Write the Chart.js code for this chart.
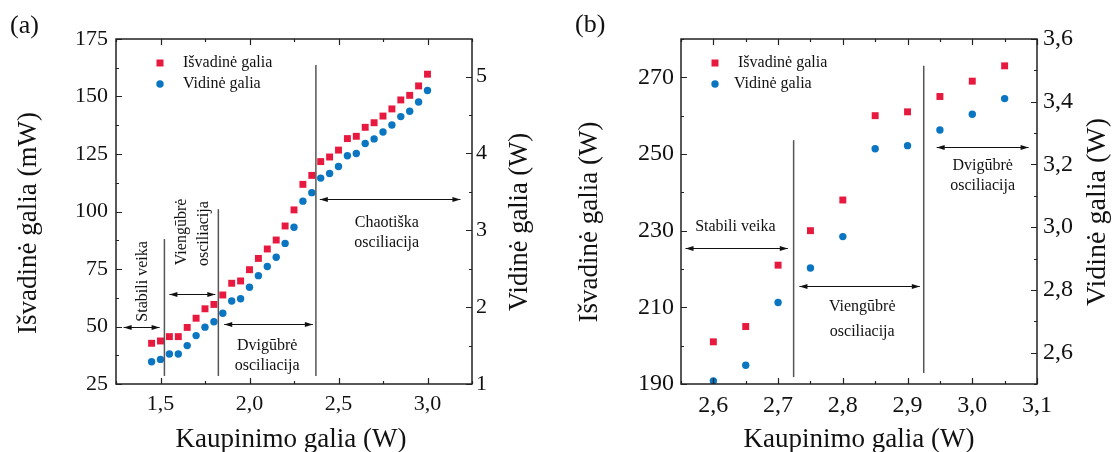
<!DOCTYPE html>
<html>
<head>
<meta charset="utf-8">
<script src="https://cdn.jsdelivr.net/npm/chart.js@4.4.0/dist/chart.umd.min.js"></script>
<style>
  html, body { margin: 0; padding: 0; background: #fff; }
  #wrap { position: relative; width: 1114px; height: 452px; }
  .pane { position: absolute; top: 0; width: 557px; height: 452px; }
</style>
</head>
<body>
<div id="wrap">
  <div class="pane" style="left:0"><canvas id="chartA" width="557" height="452"></canvas></div>
  <div class="pane" style="left:557px"><canvas id="chartB" width="557" height="452"></canvas></div>
</div>
<script>
// (a) kaupinimo galia, W
const pumpA = [1.45, 1.50, 1.55, 1.60, 1.65, 1.70, 1.75, 1.80, 1.85, 1.90, 1.95, 2.00,
  2.05, 2.10, 2.15, 2.20, 2.25, 2.30, 2.35, 2.40, 2.45, 2.50, 2.55, 2.60,
  2.65, 2.70, 2.75, 2.80, 2.85, 2.90, 2.95, 3.00];
// (a) išvadinė galia, mW
const outA = [42.7, 43.7, 45.6, 45.6, 49.6, 53.6, 57.7, 59.6, 63.7, 68.8, 69.8, 74.7,
  79.6, 83.7, 87.6, 93.7, 100.7, 111.8, 115.7, 121.7, 123.7, 126.7, 131.7, 132.7,
  136.6, 138.6, 141.5, 144.6, 148.5, 150.5, 154.6, 159.7];
// (a) vidinė galia, W
const innerA = [1.29, 1.32, 1.39, 1.39, 1.50, 1.63, 1.74, 1.81, 1.92, 2.08, 2.11, 2.26,
  2.41, 2.53, 2.65, 2.83, 3.04, 3.38, 3.49, 3.68, 3.74, 3.83, 3.97, 4.00,
  4.13, 4.19, 4.28, 4.37, 4.48, 4.55, 4.67, 4.82];

// (b)
const pumpB = [2.60, 2.65, 2.70, 2.75, 2.80, 2.85, 2.90, 2.95, 3.00, 3.05];
const outB = [201, 205, 221, 230, 238, 260, 261, 265, 269, 273];
const innerB = [2.51, 2.56, 2.76, 2.87, 2.97, 3.25, 3.26, 3.31, 3.36, 3.41];

// ašių žymės (su tarpinėmis)
const xTicksA = [1.25, 1.5, 1.75, 2.0, 2.25, 2.5, 2.75, 3.0, 3.25];
const yTicksA = [25, 37.5, 50, 62.5, 75, 87.5, 100, 112.5, 125, 137.5, 150, 162.5, 175];
const y1TicksA = [1, 1.5, 2, 2.5, 3, 3.5, 4, 4.5, 5];
const xTicksB = [2.55, 2.6, 2.65, 2.7, 2.75, 2.8, 2.85, 2.9, 2.95, 3.0, 3.05, 3.1];
const yTicksB = [190, 200, 210, 220, 230, 240, 250, 260, 270, 280];
const y1TicksB = [2.5, 2.6, 2.7, 2.8, 2.9, 3.0, 3.1, 3.2, 3.3, 3.4, 3.5, 3.6];

const RED = '#E8193F';
const BLUE = '#0A76C2';
const FONT = '"Liberation Serif", "Times New Roman", serif';
Chart.defaults.font.family = FONT;
Chart.defaults.color = '#111';

const comma = (v, d) => v.toFixed(d).replace('.', ',');
const isMult = (v, step) => Math.abs(v / step - Math.round(v / step)) < 1e-6;

function makeDeco(cfg) {
  return {
    id: 'deco' + cfg.name,
    afterDraw(chart) {
      const ctx = chart.ctx;
      const { left, right, top, bottom } = chart.chartArea;
      const sx = chart.scales.x, sy = chart.scales.y;
      ctx.save();
      ctx.strokeStyle = '#222';
      ctx.lineWidth = 1.2;
      // žymės į vidų
      ctx.beginPath();
      sx.ticks.forEach(t => {
        const p = Math.round(sx.getPixelForValue(t.value)) + 0.5;
        const len = t.label ? 6 : 3;
        ctx.moveTo(p, bottom); ctx.lineTo(p, bottom - len);
        ctx.moveTo(p, top); ctx.lineTo(p, top + len);
      });
      sy.ticks.forEach(t => {
        const p = Math.round(sy.getPixelForValue(t.value)) + 0.5;
        const len = t.label ? 6 : 3;
        ctx.moveTo(left, p); ctx.lineTo(left + len, p);
      });
      chart.scales.y1.ticks.forEach(t => {
        const p = Math.round(chart.scales.y1.getPixelForValue(t.value)) + 0.5;
        const len = t.label ? 6 : 3;
        ctx.moveTo(right, p); ctx.lineTo(right - len, p);
      });
      ctx.stroke();
      ctx.lineWidth = 1.5;
      ctx.strokeRect(left, top, right - left, bottom - top);

      // vertikalios ribos
      ctx.strokeStyle = '#555';
      ctx.lineWidth = 1.5;
      cfg.vlines.forEach(([x, y0, y1]) => {
        const px = sx.getPixelForValue(x);
        ctx.beginPath();
        ctx.moveTo(px, sy.getPixelForValue(y0));
        ctx.lineTo(px, sy.getPixelForValue(y1));
        ctx.stroke();
      });

      // rodyklės
      ctx.strokeStyle = '#111';
      ctx.fillStyle = '#111';
      ctx.lineWidth = 1;
      cfg.arrows.forEach(([x0, x1, y]) => {
        const a = sx.getPixelForValue(x0), b = sx.getPixelForValue(x1);
        const py = Math.round(sy.getPixelForValue(y)) + 0.5;
        ctx.beginPath(); ctx.moveTo(a, py); ctx.lineTo(b, py); ctx.stroke();
        ctx.beginPath();
        ctx.moveTo(a, py); ctx.lineTo(a + 8, py - 2.5); ctx.lineTo(a + 8, py + 2.5); ctx.closePath();
        ctx.moveTo(b, py); ctx.lineTo(b - 8, py - 2.5); ctx.lineTo(b - 8, py + 2.5); ctx.closePath();
        ctx.fill();
      });

      // užrašai
      ctx.fillStyle = '#111';
      ctx.textAlign = 'center';
      ctx.textBaseline = 'middle';
      ctx.font = '16px ' + FONT;
      cfg.notes.forEach(([text, x, y, rot]) => {
        ctx.save();
        ctx.translate(sx.getPixelForValue(x), sy.getPixelForValue(y));
        if (rot) ctx.rotate(-Math.PI / 2);
        ctx.fillText(text, 0, 0);
        ctx.restore();
      });

      // legenda
      const lg = cfg.legend;
      ctx.fillStyle = RED;
      ctx.fillRect(lg.mx - 3.5, lg.y0 - 3.5, 7, 7);
      ctx.fillStyle = BLUE;
      ctx.beginPath(); ctx.arc(lg.mx, lg.y1, 3.7, 0, Math.PI * 2); ctx.fill();
      ctx.fillStyle = '#111';
      ctx.textAlign = 'left';
      ctx.fillText('Išvadinė galia', lg.tx0, lg.y0);
      ctx.fillText('Vidinė galia', lg.tx1, lg.y1);

      // ašių pavadinimai
      ctx.textBaseline = 'alphabetic';
      cfg.titles.forEach(t => {
        ctx.save();
        ctx.font = t.size + 'px ' + FONT;
        ctx.textAlign = t.align || 'center';
        ctx.translate(t.x, t.y);
        if (t.rot) ctx.rotate(-Math.PI / 2);
        ctx.fillText(t.text, 0, 0);
        ctx.restore();
      });
      ctx.restore();
    }
  };
}

function makeChart(id, cfg) {
  const tickFont = { size: cfg.tickSize, family: FONT };
  return new Chart(document.getElementById(id), {
    type: 'scatter',
    data: {
      datasets: [{
        label: 'Išvadinė galia',
        data: cfg.xs.map((x, i) => ({ x, y: cfg.out[i] })),
        yAxisID: 'y',
        pointStyle: 'rect',
        pointRadius: 4.9,
        backgroundColor: RED,
        borderWidth: 0
      }, {
        label: 'Vidinė galia',
        data: cfg.xs.map((x, i) => ({ x, y: cfg.inner[i] })),
        yAxisID: 'y1',
        pointStyle: 'circle',
        pointRadius: 3.7,
        backgroundColor: BLUE,
        borderWidth: 0
      }]
    },
    options: {
      responsive: false,
      devicePixelRatio: 1,
      animation: false,
      events: [],
      layout: { padding: { top: 39, left: 0, right: 0, bottom: 0 } },
      plugins: { legend: { display: false }, tooltip: { enabled: false } },
      scales: {
        x: {
          type: 'linear', min: cfg.xTicks[0], max: cfg.xTicks[cfg.xTicks.length - 1],
          grid: { display: false, drawTicks: false }, border: { display: false },
          afterBuildTicks: s => { s.ticks = cfg.xTicks.map(v => ({ value: v })); },
          afterFit: s => { s.height = 68; },
          ticks: { autoSkip: false, maxRotation: 0, padding: 7, font: tickFont, callback: cfg.xLabel }
        },
        y: {
          type: 'linear', position: 'left', min: cfg.yTicks[0], max: cfg.yTicks[cfg.yTicks.length - 1],
          grid: { display: false, drawTicks: false }, border: { display: false },
          afterBuildTicks: s => { s.ticks = cfg.yTicks.map(v => ({ value: v })); },
          afterFit: s => { s.width = cfg.leftW; },
          ticks: { autoSkip: false, padding: cfg.leftPad, font: tickFont, callback: cfg.yLabel }
        },
        y1: {
          type: 'linear', position: 'right', min: cfg.y1Min, max: cfg.y1Max,
          grid: { display: false, drawTicks: false }, border: { display: false },
          afterBuildTicks: s => { s.ticks = cfg.y1Ticks.map(v => ({ value: v })); },
          afterFit: s => { s.width = cfg.rightW; },
          ticks: { autoSkip: false, padding: cfg.rightPad, font: tickFont, callback: cfg.y1Label }
        }
      }
    },
    plugins: [makeDeco(cfg)]
  });
}

makeChart('chartA', {
  name: 'A', xs: pumpA, out: outA, inner: innerA,
  xTicks: xTicksA, yTicks: yTicksA, y1Ticks: y1TicksA,
  y1Min: 1, y1Max: 5.49,
  tickSize: 22, leftW: 116, rightW: 85, leftPad: 8, rightPad: 4,
  xLabel: v => isMult(v, 0.5) ? comma(v, 1) : '',
  yLabel: v => isMult(v, 25) ? String(v) : '',
  y1Label: v => isMult(v, 1) ? String(v) : '',
  vlines: [[1.522, 88, 28.5], [1.825, 101, 28.5], [2.373, 163.7, 28.5]],
  arrows: [[1.293, 1.495, 49.7], [1.55, 1.808, 64.1], [1.858, 2.356, 51.1], [2.395, 3.185, 105.4]],
  notes: [
    ['Stabili veika', 1.399, 69.6, true],
    ['Viengūbrė', 1.618, 91.1, true],
    ['osciliacija', 1.741, 90.4, true],
    ['Dvigūbrė', 2.099, 41.6, false],
    ['osciliacija', 2.099, 33.0, false],
    ['Chaotiška', 2.771, 95.0, false],
    ['osciliacija', 2.771, 86.3, false]
  ],
  legend: { mx: 160, y0: 63, y1: 84, tx0: 183, tx1: 183 },
  titles: [
    { text: 'Išvadinė galia (mW)', x: 36, y: 223, rot: true, size: 27 },
    { text: 'Vidinė galia (W)', x: 527, y: 222, rot: true, size: 26.5 },
    { text: 'Kaupinimo galia (W)', x: 291, y: 447, size: 27 },
    { text: '(a)', x: 10, y: 33, align: 'left', size: 26 }
  ]
});

makeChart('chartB', {
  name: 'B', xs: pumpB, out: outB, inner: innerB,
  xTicks: xTicksB, yTicks: yTicksB, y1Ticks: y1TicksB,
  y1Min: 2.5, y1Max: 3.6,
  tickSize: 24, leftW: 124, rightW: 77, leftPad: 7, rightPad: 6,
  xLabel: v => isMult(v, 0.1) ? comma(v, 1) : '',
  yLabel: v => isMult(v - 190, 20) ? String(v) : '',
  y1Label: v => (v > 2.55 && isMult(v, 0.2)) ? comma(v, 1) : '',
  vlines: [[2.724, 253.6, 191.8], [2.925, 273, 192.9]],
  arrows: [[2.557, 2.715, 225.5], [2.733, 2.919, 215.6], [2.945, 3.087, 251.8]],
  notes: [
    ['Stabili veika', 2.634, 230.9, false],
    ['Viengūbrė', 2.830, 210.1, false],
    ['osciliacija', 2.830, 203.6, false],
    ['Dvigūbrė', 3.016, 246.8, false],
    ['osciliacija', 3.016, 241.6, false]
  ],
  legend: { mx: 158, y0: 63, y1: 84, tx0: 181, tx1: 177 },
  titles: [
    { text: 'Išvadinė galia (W)', x: 40, y: 222, rot: true, size: 27 },
    { text: 'Vidinė galia (W)', x: 548, y: 212, rot: true, size: 28 },
    { text: 'Kaupinimo galia (W)', x: 302, y: 447, size: 27 },
    { text: '(b)', x: 18, y: 32, align: 'left', size: 26 }
  ]
});
</script>
</body>
</html>
